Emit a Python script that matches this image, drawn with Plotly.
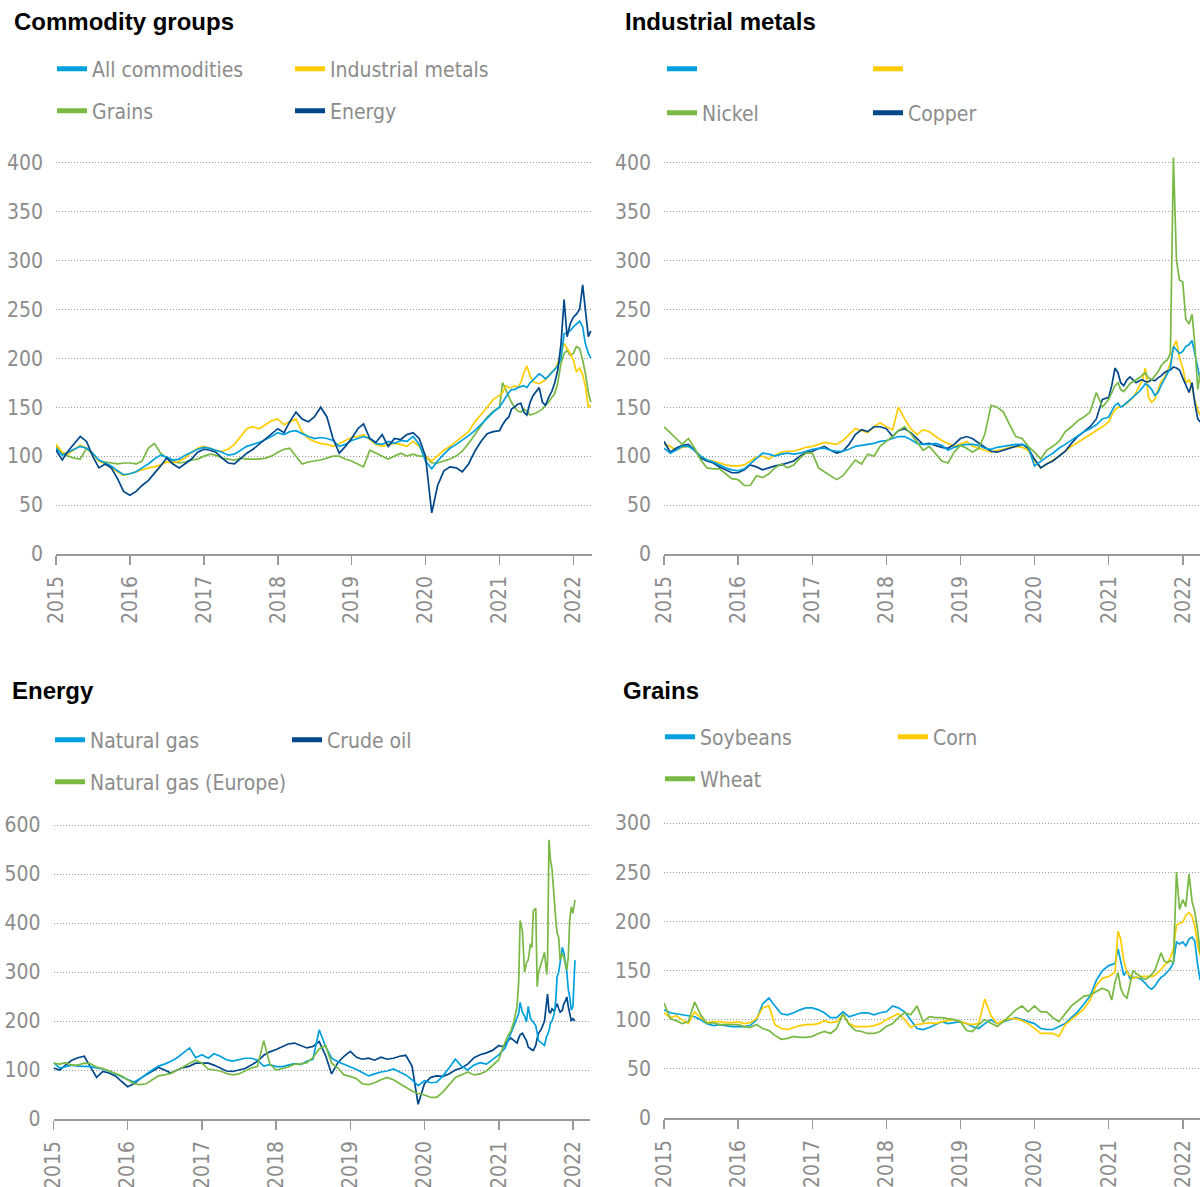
import plotly.graph_objects as go

W, H = 1200, 1187

# ---------------- dates ----------------
hist_dates = [f"{y}-{m:02d}-01" for y in range(2015, 2021) for m in range(1, 13)]
recent_dates = ["2021-01-01", "2021-01-16", "2021-02-01", "2021-02-16", "2021-03-01", "2021-03-16",
                "2021-04-01", "2021-04-16", "2021-05-01", "2021-05-16", "2021-06-01", "2021-06-16",
                "2021-07-01", "2021-07-16", "2021-08-01", "2021-08-16", "2021-09-01", "2021-09-16",
                "2021-10-01", "2021-10-16", "2021-11-01", "2021-11-16", "2021-12-01", "2021-12-16",
                "2022-01-01", "2022-01-16", "2022-02-01", "2022-02-16", "2022-03-01", "2022-03-16",
                "2022-03-28"]
energy_recent_dates = ["2021-01-01", "2021-01-16", "2021-02-01", "2021-02-15", "2021-03-02", "2021-03-17",
                       "2021-04-01", "2021-04-09", "2021-04-16", "2021-04-27", "2021-05-08", "2021-05-17",
                       "2021-05-26", "2021-06-06", "2021-06-13", "2021-06-20", "2021-07-02", "2021-07-09",
                       "2021-07-16", "2021-07-31", "2021-08-14", "2021-08-25", "2021-08-29", "2021-09-05",
                       "2021-09-12", "2021-09-20", "2021-10-01", "2021-10-08", "2021-10-15", "2021-10-23",
                       "2021-10-30", "2021-11-10", "2021-11-17", "2021-11-24", "2021-12-02", "2021-12-09",
                       "2021-12-16", "2021-12-24", "2022-01-01", "2022-01-11"]
dates = hist_dates + recent_dates
energy_dates = hist_dates + energy_recent_dates

year_ticks = [f"{y}-01-01" for y in range(2015, 2023)]
year_labels = [str(y) for y in range(2015, 2023)]

# ---------------- Commodity groups ----------------
all_commodities = [
    108, 101, 104, 107, 110, 108, 103, 96, 93, 90, 85, 81,
    82, 84, 88, 92, 97, 101, 99, 96, 97, 101, 104, 107,
    109, 108, 106, 104, 101, 102, 106, 110, 112, 114, 117, 120,
    124, 122, 125, 126, 123, 120, 118, 119, 118, 116, 110, 112,
    116, 118, 120, 118, 113, 112, 115, 113, 116, 115, 120, 112,
    95, 87, 95, 102, 108, 112, 116, 121, 126, 132, 138, 145,
    150, 155, 160, 165, 168, 168, 170, 171, 172, 170, 175, 178, 181, 184, 182, 179,
    182, 185, 188, 192, 200, 225, 226, 228, 232, 235, 238, 232, 215, 205, 200]
industrial_metals = [
    112, 104, 102, 107, 111, 108, 102, 95, 92, 88, 84, 80,
    82, 84, 86, 88, 89, 91, 94, 93, 95, 98, 104, 108,
    110, 108, 106, 105, 107, 112, 120, 128, 130, 128, 132, 136,
    138, 132, 135, 138, 125, 118, 115, 113, 112, 110, 113, 116,
    119, 120, 122, 117, 112, 110, 112, 113, 112, 110, 115, 110,
    100, 95, 100, 106, 110, 115, 120, 125, 135, 142, 150, 158,
    162, 165, 172, 170, 170, 172, 170, 175, 185, 192, 182, 176, 175, 174, 176, 178,
    182, 186, 188, 195, 205, 215, 210, 205, 198, 186, 190, 183, 172, 150, 152]
grains = [
    110, 103, 100, 98, 97, 108, 103, 95, 94, 93, 92, 93,
    93, 92, 95, 108, 113, 103, 98, 95, 93, 94, 96, 97,
    100, 102, 101, 98, 97, 96, 98, 97, 97, 97, 98, 100,
    104, 107, 108, 100, 92, 94, 95, 96, 98, 100, 100, 97,
    95, 92, 89, 106, 103, 100, 97, 100, 103, 100, 102, 100,
    100, 93, 93, 95, 97, 100, 105, 113, 122, 130, 140, 146,
    150, 175, 168, 160, 155, 150, 146, 145, 148, 146, 142, 143, 144, 146, 148, 152,
    155, 160, 164, 175, 195, 205, 208, 203, 205, 212, 210, 198, 185, 165, 155]
energy = [
    106, 96, 105, 113, 120, 115, 100, 88, 92, 88, 77, 64,
    60, 64, 70, 75, 82, 90, 98, 92, 88, 92, 97, 104,
    107, 106, 104, 98, 93, 92, 97, 103, 107, 112, 118, 123,
    128, 124, 135, 145, 138, 135, 140, 150, 140, 118, 103, 110,
    118, 128, 133, 118, 114, 122, 110, 118, 117, 122, 124, 118,
    100, 42, 70, 85, 89, 88, 84, 92, 105, 115, 123, 125,
    126, 132, 137, 140, 148, 150, 153, 154, 145, 142, 155, 162, 166, 170, 155, 152,
    160, 166, 175, 188, 215, 260, 222, 235, 242, 245, 250, 275, 250, 222, 228]

# ---------------- Industrial metals ----------------
metals_blue = [
    108, 103, 106, 110, 110, 106, 100, 96, 94, 91, 88, 86,
    85, 87, 92, 97, 103, 102, 100, 102, 103, 102, 103, 105,
    107, 108, 108, 106, 105, 105, 107, 110, 111, 112, 113, 115,
    116, 118, 120, 120, 117, 113, 112, 112, 113, 111, 106, 109,
    111, 112, 112, 111, 108, 107, 109, 110, 111, 112, 112, 110,
    90, 95, 99, 103, 108, 112, 116, 120, 125, 128, 132, 138,
    140, 146, 152, 154, 150, 152, 155, 158, 160, 163, 166, 170, 174, 172, 168, 162,
    165, 172, 178, 184, 190, 212, 208, 205, 207, 212, 214, 218, 205, 188, 178]
metals_yellow = [
    112, 110, 106, 109, 110, 106, 100, 96, 95, 93, 91, 90,
    90, 91, 95, 99, 100, 97, 101, 104, 105, 105, 107, 109,
    110, 112, 114, 113, 112, 116, 122, 128, 126, 124, 130, 134,
    130, 127, 150, 138, 128, 122, 127, 125, 120, 116, 113, 110,
    112, 115, 110, 108, 106, 104, 106, 107, 109, 110, 109, 106,
    95, 88, 92, 96, 100, 105, 110, 114, 118, 122, 126, 130,
    135, 142, 147, 150, 150, 152, 154, 157, 160, 165, 171, 178, 190, 160, 155, 158,
    168, 176, 180, 186, 195, 212, 218, 200, 190, 175, 178, 170, 157, 147, 142]
nickel = [
    130, 124, 118, 112, 118, 108, 96, 88, 87, 87, 82, 77,
    76, 70, 70, 80, 78, 82, 88, 92, 88, 91, 98, 103,
    103, 88, 84, 80, 76, 80, 88, 96, 92, 102, 100, 110,
    115, 120, 126, 130, 123, 114, 106, 110, 102, 95, 93, 104,
    111, 108, 104, 108, 122, 152, 150, 145, 132, 120, 118, 110,
    104, 97, 106, 110, 115, 125, 130, 136, 140, 145, 165, 150,
    158, 165, 172, 175, 168, 166, 170, 174, 176, 178, 180, 183, 185, 180, 178, 182,
    186, 192, 196, 198, 205, 405, 300, 280, 278, 240, 235, 245, 215, 168, 185]
copper = [
    115, 104, 108, 111, 112, 106, 98, 95, 93, 89, 86, 83,
    83, 86, 91, 89, 86, 88, 90, 91, 93, 95, 100, 104,
    105, 108, 110, 106, 103, 105, 112, 122, 127, 125, 130, 130,
    128, 120, 126, 128, 124, 118, 112, 113, 111, 109, 108, 112,
    118, 120, 118, 113, 109, 105, 104, 106, 108, 110, 112, 108,
    97, 88, 92, 95, 100, 105, 113, 120, 125, 130, 138, 158,
    160, 172, 190, 185, 175, 172, 178, 181, 178, 175, 177, 178, 176, 176, 178, 177,
    180, 182, 185, 187, 188, 191, 190, 188, 180, 172, 165, 175, 155, 138, 135]

# ---------------- Energy ----------------
natural_gas = [
    115, 104, 107, 110, 108, 107, 107, 104, 102, 98, 92, 86,
    80, 75, 82, 92, 100, 108, 112, 118, 125, 135, 145, 125,
    131, 124, 133, 128, 121, 118, 121, 124, 124, 120, 108, 111,
    107, 107, 110, 113, 111, 118, 122, 182, 148, 124, 117, 112,
    107, 101, 95, 88, 92, 96, 98, 102, 96, 90, 80, 68,
    78, 74, 75, 88, 104, 122, 108, 100, 110, 115, 112, 122,
    131, 138, 145, 160, 175, 190, 205, 215, 238, 218, 210, 198, 230, 205, 200, 198,
    190, 175, 160, 155, 150, 170, 172, 180, 195, 200, 215, 240, 290, 300,
    320, 350, 340, 318, 300, 265, 249, 222, 230, 324]
crude_oil = [
    104, 100, 110, 120, 125, 128, 107, 85, 97, 94, 88, 78,
    66, 72, 82, 90, 98, 105, 100, 94, 100, 105, 108, 114,
    114, 114, 110, 104, 98, 97, 100, 103, 110, 118, 130, 137,
    142, 148, 153, 155, 150, 145, 148, 158, 130, 92, 115, 128,
    138, 126, 122, 124, 120, 126, 122, 124, 128, 130, 108, 30,
    72, 85, 88, 87, 92, 100, 104, 112, 125, 131, 135, 140,
    150, 148, 150, 160, 165, 160, 155, 165, 172, 175, 165, 160, 147, 143, 141, 140,
    150, 165, 175, 185, 200, 240, 255, 220, 216, 225, 220, 229, 235, 225,
    218, 222, 235, 240, 249, 230, 216, 200, 205, 200]
natural_gas_europe = [
    114, 112, 115, 110, 110, 114, 113, 106, 103, 98, 94, 88,
    80, 72, 70, 72, 80, 88, 90, 93, 100, 106, 114, 120,
    114, 102, 100, 98, 93, 90, 92, 98, 104, 107, 160, 112,
    100, 103, 106, 112, 112, 115, 125, 143, 150, 114, 104, 90,
    87, 82, 72, 70, 74, 80, 85, 80, 72, 65, 57, 52,
    49, 44, 44, 55, 70, 85, 90, 96, 90, 92, 98, 110,
    121, 140, 158, 170, 180, 200, 230, 280, 405, 385, 300, 318, 325, 358, 350, 425,
    430, 270, 300, 320, 340, 295, 320, 570, 530, 510, 440, 410, 380, 370,
    325, 338, 330, 318, 304, 330, 405, 433, 420, 447]

# ---------------- Grains ----------------
soybeans = [
    110, 107, 106, 105, 104, 103, 100, 96, 94, 95, 94, 93,
    93, 93, 94, 100, 116, 122, 114, 106, 105, 107, 110, 112,
    112, 110, 107, 102, 102, 108, 103, 105, 107, 107, 105, 107,
    108, 114, 112, 108, 100, 91, 90, 92, 95, 98, 96, 97,
    98, 96, 93, 91, 96, 100, 96, 98, 100, 102, 100, 98,
    96, 91, 90, 90, 93, 96, 102, 108, 116, 124, 140, 150,
    155, 156, 157, 172, 160, 145, 150, 142, 143, 143, 142, 140, 137, 133, 131, 134,
    139, 143, 145, 148, 152, 158, 179, 177, 179, 175, 182, 184, 180, 155, 140]
corn = [
    107, 102, 104, 100, 96, 108, 102, 97, 98, 98, 97, 97,
    98, 96, 97, 101, 112, 114, 95, 91, 90, 92, 94, 95,
    95, 96, 99, 97, 98, 105, 96, 93, 93, 93, 94, 96,
    100, 103, 106, 100, 92, 95, 96, 97, 96, 98, 99, 100,
    98, 96, 95, 96, 121, 104, 96, 99, 101, 101, 99, 96,
    91, 86, 86, 86, 83, 95, 100, 106, 111, 120, 135, 142,
    144, 146, 148, 190, 182, 160, 148, 145, 142, 143, 143, 144, 144, 144, 144, 145,
    148, 151, 155, 158, 163, 172, 196, 198, 199, 206, 209, 205, 196, 175, 165]
wheat = [
    117, 101, 99, 96, 98, 118, 105, 96, 97, 95, 95, 95,
    95, 93, 92, 95, 91, 89, 84, 80, 81, 83, 82, 82,
    83, 86, 88, 86, 91, 106, 95, 89, 88, 86, 86, 88,
    93, 96, 102, 107, 105, 114, 98, 103, 102, 102, 101, 100,
    98, 89, 88, 95, 100, 96, 93, 98, 104, 110, 114, 108,
    114, 108, 108, 102, 98, 106, 114, 119, 124, 125, 129, 132,
    129, 120, 138, 148, 132, 125, 122, 135, 150, 147, 145, 142, 141, 143, 146, 150,
    160, 168, 160, 158, 160, 158, 250, 212, 222, 215, 248, 220, 210, 190, 168]

# ---------------- styling ----------------
BLUE, YELLOW, GREEN, NAVY = "#00a0df", "#ffcc00", "#78b843", "#00478a"
GREY = "#8c8c8c"
AXIS_GREY = "#9a9a9a"
NARROW = "DejaVu Sans Condensed, Liberation Sans Narrow, Arial Narrow, sans-serif"
TITLE_FONT = "Liberation Sans, Arial, Helvetica, sans-serif"
TXT = 21


def fx(p):
    return p / W


def fy(p):
    return 1 - p / H


panels = [
    dict(ax="", title="Commodity groups", title_xy=(12, 21),
         xdom=(56, 592), y0=554, scale=0.97875, ymax=412, yticks=list(range(0, 401, 50)),
         xend="2022-04-03", dates=dates,
         series=[("Grains", grains, GREEN), ("Industrial metals", industrial_metals, YELLOW),
                 ("All commodities", all_commodities, BLUE), ("Energy", energy, NAVY)],
         legend=[("All commodities", BLUE, 57, 69), ("Industrial metals", YELLOW, 295, 69),
                 ("Grains", GREEN, 57, 111), ("Energy", NAVY, 295, 111)]),
    dict(ax="2", title="Industrial metals", title_xy=(623, 21),
         xdom=(664, 1200), y0=554, scale=0.97875, ymax=412, yticks=list(range(0, 401, 50)),
         xend="2022-03-27", dates=dates,
         series=[("", metals_yellow, YELLOW), ("Copper", copper, NAVY),
                 ("", metals_blue, BLUE), ("Nickel", nickel, GREEN)],
         legend=[("", BLUE, 667, 69), ("", YELLOW, 873, 69),
                 ("Nickel", GREEN, 667, 113), ("Copper", NAVY, 873, 113)]),
    dict(ax="3", title="Energy", title_xy=(10, 690),
         xdom=(53.5, 590), y0=1119, scale=0.49, ymax=605, yticks=list(range(0, 601, 100)),
         xend="2022-03-26", dates=energy_dates,
         series=[("Crude oil", crude_oil, NAVY), ("Natural gas", natural_gas, BLUE),
                 ("Natural gas (Europe)", natural_gas_europe, GREEN)],
         legend=[("Natural gas", BLUE, 55, 740), ("Crude oil", NAVY, 292, 740),
                 ("Natural gas (Europe)", GREEN, 55, 782)]),
    dict(ax="4", title="Grains", title_xy=(621, 690),
         xdom=(664, 1200), y0=1118, scale=0.98333, ymax=305, yticks=list(range(0, 301, 50)),
         xend="2022-03-27", dates=dates,
         series=[("Soybeans", soybeans, BLUE), ("Corn", corn, YELLOW), ("Wheat", wheat, GREEN)],
         legend=[("Soybeans", BLUE, 665, 737), ("Corn", YELLOW, 898, 737),
                 ("Wheat", GREEN, 665, 779)]),
]

fig = go.Figure()
layout = dict(width=W, height=H, margin=dict(l=0, r=0, t=0, b=0, pad=0, autoexpand=False),
              paper_bgcolor="white", plot_bgcolor="white", showlegend=True,
              hovermode=False)
annotations = []
legend_count = 0

for p in panels:
    ax = p["ax"]
    xname, yname = "x" + ax, "y" + ax
    top_px = p["y0"] - p["ymax"] * p["scale"]
    layout["xaxis" + ax] = dict(
        domain=[fx(p["xdom"][0]), fx(p["xdom"][1])], anchor=yname, type="date",
        range=["2015-01-01", p["xend"]], tickmode="array", tickvals=year_ticks,
        ticktext=year_labels, tickangle=-90, ticks="outside", ticklen=9, tickwidth=1.5,
        tickcolor=AXIS_GREY, showline=True, linecolor=AXIS_GREY, linewidth=1.5,
        showgrid=False, zeroline=False, ticklabelstandoff=3, automargin=False,
        tickfont=dict(family=NARROW, size=TXT, color=GREY), fixedrange=True)
    layout["yaxis" + ax] = dict(
        domain=[fy(p["y0"]), fy(top_px)], anchor=xname, range=[0, p["ymax"]],
        tickmode="array", tickvals=p["yticks"], ticktext=[str(v) for v in p["yticks"]],
        showgrid=True, gridcolor=AXIS_GREY, gridwidth=1, griddash="1px,2px",
        zeroline=False, showline=False, ticks="", ticklabelstandoff=12, automargin=False,
        tickfont=dict(family=NARROW, size=TXT, color=GREY), fixedrange=True)
    for name, vals, color in p["series"]:
        fig.add_trace(go.Scatter(x=p["dates"], y=vals, mode="lines", name=name,
                                 line=dict(color=color, width=1.7), xaxis=xname, yaxis=yname,
                                 showlegend=False, hoverinfo="skip"))
    for name, color, lx, ly in p["legend"]:
        legend_count += 1
        lkey = "legend" if legend_count == 1 else f"legend{legend_count}"
        fig.add_trace(go.Scatter(x=[None], y=[None], mode="lines", name=name,
                                 line=dict(color=color, width=5), xaxis=xname, yaxis=yname,
                                 showlegend=True, legend=lkey, hoverinfo="skip"))
        layout[lkey] = dict(x=fx(lx - 5), y=fy(ly), xanchor="left", yanchor="middle",
                            orientation="h", bgcolor="rgba(0,0,0,0)", borderwidth=0,
                            itemwidth=30, itemclick=False, itemdoubleclick=False,
                            font=dict(family=NARROW, size=TXT, color=GREY))
    tx, ty = p["title_xy"]
    annotations.append(dict(text="<b>" + p["title"] + "</b>", x=fx(tx), y=fy(ty),
                            xref="paper", yref="paper", xanchor="left", yanchor="middle",
                            showarrow=False,
                            font=dict(family=TITLE_FONT, size=24, color="black")))

layout["annotations"] = annotations
fig.update_layout(**layout)
fig.write_html("out.html",
               config={"displayModeBar": False, "staticPlot": True},
               post_script="document.body.style.margin='0';document.body.style.padding='0';"
                           "document.documentElement.style.overflow='hidden';")
